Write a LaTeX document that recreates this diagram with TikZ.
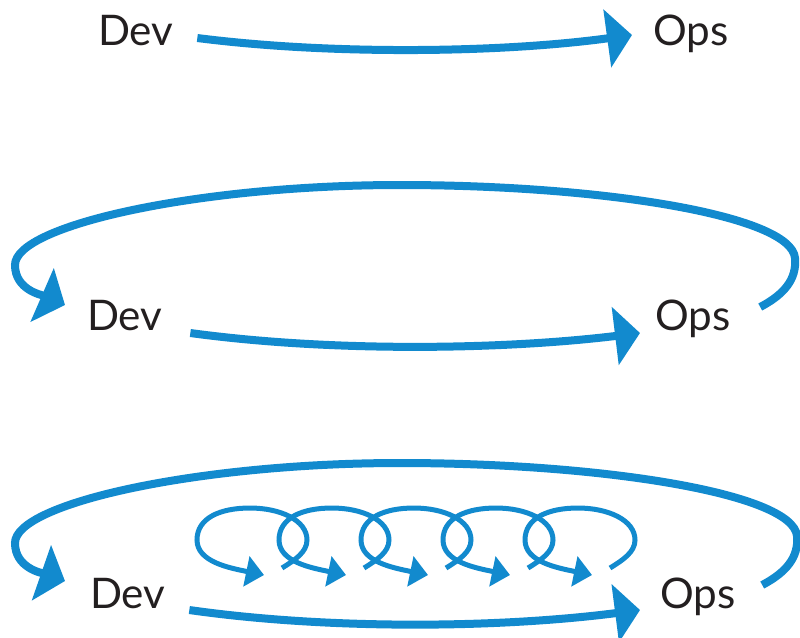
\documentclass[tikz,border=0pt]{standalone}
\usepackage{fontspec}
\setmainfont{Lato}
\usepackage{xcolor}
\usepackage{tikz}
\usetikzlibrary{arrows.meta}
\definecolor{devblue}{RGB}{18,138,206}
\definecolor{txtgray}{RGB}{35,31,32}
\tikzset{
    mynode/.style = {inner sep=0pt, outer sep=0pt, text=txtgray, font=\fontsize{24}{28}\selectfont},
    edgeb/.style = {line width=0.16cm, draw=devblue, -{Triangle[length=0.5cm,width=1.15cm]}},
    edgec/.style = {line width=0.1cm, draw=devblue, -{Triangle[length=0.36cm,width=0.6cm]}},
    curl/.pic = {
        \draw[edgec] (32,28) .. controls (45,20) and (57,12) .. (57,0)
            .. controls (57,-20) and (30,-32) .. (0,-32)
            .. controls (-30,-32) and (-53,-22) .. (-53,0)
            .. controls (-53,22) and (-20,28) .. (14,35);
    },
}
\begin{document}
\begin{tikzpicture}[x=0.02cm, y=-0.02cm]
\useasboundingbox (0,0) rectangle (800,637);
\node[mynode, anchor=base west] at (98,45) (dev1) {Dev};
\node[mynode, anchor=base west] at (653,45) (ops1) {Ops};
\node[mynode, anchor=base west] at (87,330) (dev2) {Dev};
\node[mynode, anchor=base west] at (655,330) (ops2) {Ops};
\node[mynode, anchor=base west] at (90,608) (dev3) {Dev};
\node[mynode, anchor=base west] at (660,608) (ops3) {Ops};
%
\draw[edgeb] ([shift={(24,-7)}]dev1.base east) .. controls (330,55) and (500,53) .. ([shift={(-21,-10)}]ops1.base west);
%
\draw[edgeb] ([shift={(28,3)}]dev2.base east) .. controls (330,352) and (500,350) .. ([shift={(-15,3)}]ops2.base west);
\draw[edgeb] ([shift={(30,-23)}]ops2.base east) .. controls (783,295) and (797,280) .. (795,258)
    .. controls (791,215) and (600,185) .. (400,185)
    .. controls (200,185) and (15,225) .. (15,265)
    .. controls (15,290) and (42,295) .. ([shift={(-22,-25)}]dev2.base west);
%
\draw[edgeb] ([shift={(24,2)}]dev3.base east) .. controls (330,630) and (500,628) .. ([shift={(-20,2)}]ops3.base west);
\draw[edgeb] ([shift={(27,-23)}]ops3.base east) .. controls (785,573) and (799,558) .. (797,536)
    .. controls (793,493) and (600,463) .. (400,463)
    .. controls (200,463) and (15,503) .. (15,543)
    .. controls (15,568) and (42,573) .. ([shift={(-25,-27)}]dev3.base west);
%
\pic at (250,540) {curl};
\pic at (332,540) {curl};
\pic at (414,540) {curl};
\pic at (496,540) {curl};
\pic at (578,540) {curl};
\end{tikzpicture}
\end{document}
